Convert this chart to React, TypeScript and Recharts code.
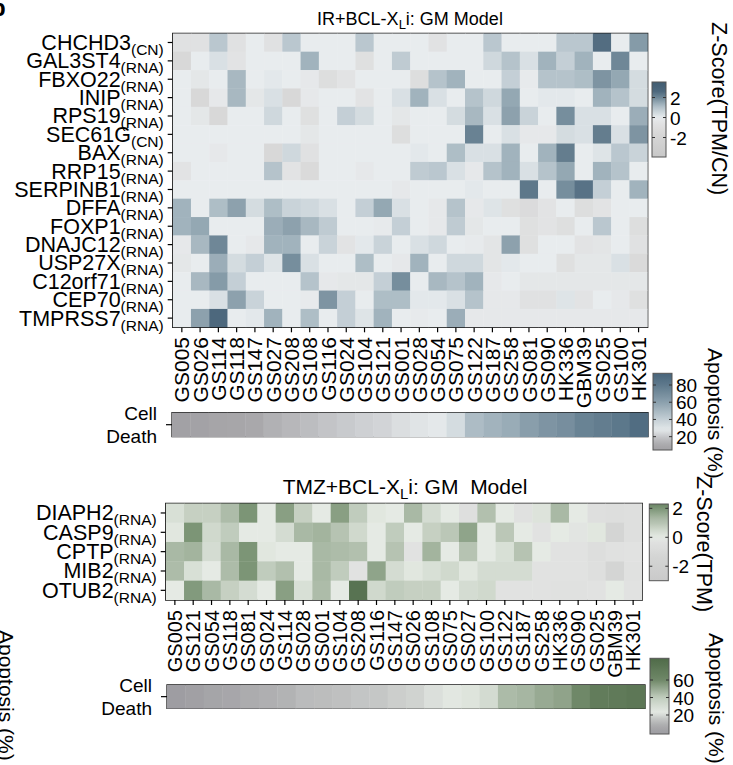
import React from 'react'
import { ScatterChart, Scatter, XAxis, YAxis, ReferenceArea } from 'recharts'

const FONT = "'Liberation Sans', Arial, Helvetica, sans-serif"

// ---- IR + BCL-XLi panel ----
const topGenes = ['CHCHD3', 'GAL3ST4', 'FBXO22', 'INIP', 'RPS19', 'SEC61G', 'BAX', 'RRP15', 'SERPINB1', 'DFFA', 'FOXP1', 'DNAJC12', 'USP27X', 'C12orf71', 'CEP70', 'TMPRSS7']
const topSources = ['CN', 'RNA', 'RNA', 'RNA', 'RNA', 'CN', 'RNA', 'RNA', 'RNA', 'RNA', 'RNA', 'RNA', 'RNA', 'RNA', 'RNA', 'RNA']
const topSamples = ['GS005', 'GS026', 'GS114', 'GS118', 'GS147', 'GS027', 'GS208', 'GS108', 'GS116', 'GS024', 'GS104', 'GS121', 'GS001', 'GS028', 'GS054', 'GS075', 'GS122', 'GS187', 'GS258', 'GS081', 'GS090', 'HK336', 'GBM39', 'GS025', 'GS100', 'HK301']
const topZ = [
  [-0.7, -0.7, 0.9, -0.7, 0, -0.7, 0.9, 0, 0, 0, 0.9, 0, 0, 0, -0.6, 0, 0, 0.9, 0, 0, 0, 0.9, 0.9, 2.5, 0, 1.7],
  [-1.5, 0, 0.3, -0.5, 0, 0, 0, 1.3, 0, 0, -0.8, 0, 0.8, 0, 0, 0, 0, 0.5, 1, 0.3, 1.3, 0.7, 1.3, 0, 2, 0],
  [0, -0.3, 0, 1.2, 0, 0.1, 0, -0.2, -1, -0.5, 0, 0, 0, -1, 1, 1.3, 0, 0, 0.7, -0.1, 1, 1, 1.1, 1.8, 1.5, 0.4],
  [0, -1.5, -0.2, 1.2, -0.3, 0.3, -1.5, -0.2, 0, 0, -0.5, 0, 0.3, 1.3, 0.3, 0, 1, 0.5, 1.5, 0, 0.1, 0.1, 0, 1.3, 1, 0.4],
  [0, -0.3, -1.5, 0, 0, 0.5, 0, -0.8, 0, 0.7, 0.4, 0, -0.3, 0, 0, 0.4, 1.2, 0.3, 1.6, 0.6, 0, 1.9, 0.3, 0.3, 0, 1.4],
  [0, 0, 0, 0, 0, 0, 0, -0.3, 0, 0, 0, 0, -1, 0, 0, 0, 2.1, 0, 0.3, -0.2, -0.2, 0.4, 0.3, 2.2, 0.3, 1.8],
  [0, 0, -0.2, 0, 0, -1.5, 0.5, -0.7, 0, 0, 0, 0, 0, 0.1, 0, 1.1, 0.3, 0.3, 1.3, 0, 1.3, 2.2, 0, 0.2, 0.9, 0.6],
  [-0.5, 0, 0, 0, 0, 1, -0.5, -1.3, 0, 0, -0.2, 0, 0, 0.8, 0.9, 0.3, -0.2, 1, 1.3, 0.3, 1, 1.5, 0, 1.3, 1, 0],
  [0, 0, 0, 0, 0, 0, 0, 0, 0, 0, 0, 0, -0.2, 0, 0, 0, 0.1, 0, 0, 2.3, 0, 1.9, 2.4, 0.7, 0, 1.3],
  [1.3, 0, 1.1, 1.6, 0.4, 1.1, 0.6, 0.5, 0.3, 0, 0.7, 1.5, 0.3, 0, -0.2, 1, -0.2, 0.2, -0.8, -1.2, -0.5, 0, -1, -0.5, 0, 0],
  [1.3, 1.5, 0, 0, 0, 1.4, 1.6, 1.2, 0.8, 0, 0, -0.1, 0.7, 0, -0.2, 0.8, -0.3, 0, 0, -0.8, -0.5, -0.9, 0, 0.9, 0, -1],
  [-0.2, 1.2, 2, 0, -0.2, 1.3, 1.3, 0, 0.6, -0.5, 0.1, 0.6, 0, 0.3, 0.5, 0, -0.1, -0.4, 1.6, -0.8, 0, 0, -0.5, -0.4, 0, -0.7],
  [-0.3, 0, 1.4, 0.4, 0.7, 0.2, 1.9, 0.3, 0, 0, 1.1, 0, -0.2, 1.3, 0, 0.5, 0.5, -0.4, 0.1, 0, 0, -0.8, -0.3, -0.3, 0.3, -1.3],
  [0, 1.2, 1.7, 0.7, 0, 0, 0, 1, -0.2, -0.3, -0.3, 0.7, 1.9, 0, 1.2, 1, 1.3, -0.2, 0, -0.3, -0.3, -0.3, -0.3, -0.3, -0.3, -0.3],
  [0, 0, 0.3, 1.6, 0.6, 0, 0, -0.1, 1.8, 0.7, 0, 1.1, 1.1, 0.1, 0.1, 0.3, 1, -0.2, -0.2, -0.7, -0.7, 0.2, -0.5, 0, -0.2, -0.8],
  [0, 1.6, 2.6, 0, 0.1, 1.3, 0, 1.1, 0, 0.7, 0.2, 1.3, 0, -0.1, 0, 1.4, -0.2, -0.2, -0.2, -0.2, -0.2, -0.2, -0.2, -0.2, -0.2, -0.2],
]
const topDeath = [4, 4.5, 7, 8, 10, 13, 15, 17, 19, 20.5, 22, 23, 25.5, 27, 28, 34, 48, 52, 55, 61, 66, 69, 75, 78, 81, 88]

// ---- TMZ + BCL-XLi panel ----
const botGenes = ['DIAPH2', 'CASP9', 'CPTP', 'MIB2', 'OTUB2']
const botSamples = ['GS005', 'GS121', 'GS054', 'GS118', 'GS081', 'GS024', 'GS114', 'GS028', 'GS001', 'GS104', 'GS208', 'GS116', 'GS147', 'GS026', 'GS108', 'GS075', 'GS027', 'GS100', 'GS122', 'GS187', 'GS258', 'HK336', 'GS090', 'GS025', 'GBM39', 'HK301']
const botZ = [
  [0.3, 0.7, 0.7, 1.2, 2, 0, 1.8, 0.7, 0, 1.8, 0.8, 0.1, 0, 1.3, 0.4, 0, -0.5, 1.1, 0, -0.4, 0.2, 1.3, 0, -0.5, -0.6, -0.5],
  [0.1, 2, 0.5, 0.8, 0, 0, 0.4, 1.3, 1.4, 1, 0.5, 0, 0.8, 0, 0.7, 0.9, 1.7, 0, 0.9, 0, -0.3, 0, -0.2, 0.1, -1.3, -0.5],
  [1.3, 1.4, 0.4, 1.3, 2, 0.1, 0, 0, 1.3, 1.2, 1.1, 0, 1, -0.3, 1.4, 0, 1, 0, 0.3, 1, 0, -0.3, -0.3, -0.6, -0.4, -0.3],
  [1.2, 0.3, 0, 1.2, 2, 0.8, 1.1, 0, 1.3, 0.8, -0.3, 1.7, 0.4, 0.1, 0.3, 0.5, 0.1, 0.4, 0.4, 0.4, -0.3, -0.3, -0.3, -0.5, -1.3, -0.4],
  [0, 1.9, 1.3, 0.7, 0.4, 0, 1.8, 0.3, 1.2, 0, 2.6, 0.5, 0.8, 0.7, 0.7, 0, 0.4, 0.5, -0.3, -0.3, -0.3, -0.4, -0.4, -0.3, 0, -0.3],
]
const botDeath = [0, 1.5, 4, 5, 8, 9, 10, 12.5, 13, 14, 15.5, 16, 17.5, 18.5, 21, 22.5, 26, 31, 45, 46.5, 50, 52, 60, 70, 72, 74]

// colour scales
type Stop = [number, string]
const blueZ: Stop[] = [[-4, '#c8c8c8'], [-1.5, '#d8d8d8'], [-0.5, '#e2e3e4'], [0, '#e8ecee'], [1, '#b5c3cb'], [1.5, '#94a8b3'], [2, '#6f8797'], [2.6, '#4d687d'], [3.6, '#405c70']]
const greenZ: Stop[] = [[-3, '#cacaca'], [-1.3, '#d4d5d4'], [-0.3, '#e1e2e1'], [0, '#e5eae4'], [0.5, '#d0d9cd'], [1, '#b6c3b2'], [1.3, '#a9b9a5'], [2, '#7c9576'], [2.6, '#587352']]
const blueApop: Stop[] = [[4, '#a2a1a5'], [10, '#a9a8ab'], [18, '#bfc0c3'], [28, '#e4e8ea'], [40, '#c4cfd5'], [60, '#8ba0ad'], [80, '#5e798c'], [94, '#47647a']]
const greenApop: Stop[] = [[0, '#9e9da2'], [8, '#acacae'], [16, '#c5c7c6'], [23, '#e4e9e3'], [40, '#c0ccbd'], [50, '#98aa93'], [60, '#6f8868'], [85, '#4f6a48']]

function hex(c: string) {
  return [1, 3, 5].map((i) => parseInt(c.slice(i, i + 2), 16))
}
function colorAt(stops: Stop[], v: number) {
  if (v <= stops[0][0]) return stops[0][1]
  for (let i = 1; i < stops.length; i++) {
    if (v <= stops[i][0]) {
      const [a, ca] = stops[i - 1]
      const [b, cb] = stops[i]
      const t = (v - a) / (b - a)
      const A = hex(ca)
      const B = hex(cb)
      return `rgb(${A.map((x, k) => Math.round(x + (B[k] - x) * t)).join(',')})`
    }
  }
  return stops[stops.length - 1][1]
}

const idx = (n: number) => Array.from({ length: n }, (_, i) => i)
const toCells = (m: number[][]) => m.flatMap((row, y) => row.map((v, x) => ({ x, y, v })))
const toBar = (a: number[]) => a.map((v, x) => ({ x, y: 0, v }))

const cellShape = (w: number, h: number, stops: Stop[]) => (p: any) => (
  <rect x={p.cx - w / 2} y={p.cy - h / 2} width={w + 0.4} height={h + 0.4} fill={colorAt(stops, p.payload.v)} />
)

const geneTick = (genes: string[], src: string[]) => (p: any) => (
  <text x={p.x} y={p.y + 7.5} textAnchor="end" fontFamily={FONT} fill="#000">
    <tspan fontSize={21.5}>{genes[p.payload.value]}</tspan>
    <tspan fontSize={15.5} dy={5}>({src[p.payload.value]})</tspan>
  </text>
)

const sampleTick = (labels: string[], size: number, y0: number) => (p: any) => (
  <text
    x={p.x + size * 0.36}
    y={y0}
    transform={`rotate(-90, ${p.x + size * 0.36}, ${y0})`}
    textAnchor="end"
    fontFamily={FONT}
    fontSize={size}
    fill="#000"
  >
    {labels[p.payload.value]}
  </text>
)

const deathTick = (p: any) => (
  <text textAnchor="end" fontFamily={FONT} fontSize={19} fill="#000">
    <tspan x={p.x} y={p.y - 5}>Cell</tspan>
    <tspan x={p.x} y={p.y + 18}>Death</tspan>
  </text>
)

function ColorBar({ id, stops, x, y, w, h, vTop, vBot, ticks }: { id: string; stops: Stop[]; x: number; y: number; w: number; h: number; vTop: number; vBot: number; ticks: number[] }) {
  const n = 24
  const ypos = (v: number) => y + ((vTop - v) / (vTop - vBot)) * h
  return (
    <g>
      <defs>
        <linearGradient id={id} x1="0" y1="0" x2="0" y2="1">
          {idx(n + 1).map((i) => (
            <stop key={i} offset={i / n} stopColor={colorAt(stops, vTop - ((vTop - vBot) * i) / n)} />
          ))}
        </linearGradient>
      </defs>
      <rect x={x} y={y} width={w} height={h} fill={`url(#${id})`} stroke="#555" strokeWidth={1} />
      {ticks.map((t) => (
        <g key={t}>
          <line x1={x} x2={x + 3} y1={ypos(t)} y2={ypos(t)} stroke="#333" />
          <line x1={x + w - 3} x2={x + w} y1={ypos(t)} y2={ypos(t)} stroke="#333" />
          <text x={x + w + 4} y={ypos(t) + 7} fontFamily={FONT} fontSize={19} fill="#000">
            {t}
          </text>
        </g>
      ))}
    </g>
  )
}

const vtext = (x: number, y: number, s: string, size = 21) => (
  <text x={x} y={y} transform={`rotate(90, ${x}, ${y})`} fontFamily={FONT} fontSize={size} fill="#000">
    {s}
  </text>
)

export default function App() {
  const axisTick = { stroke: '#000', strokeWidth: 1.2 }
  return (
    <div style={{ position: 'absolute', left: 0, top: 0, width: 733, height: 765, background: '#fff', overflow: 'hidden' }}>
      {/* top heatmap */}
      <div style={{ position: 'absolute', left: 0, top: 0 }}>
        <ScatterChart width={733} height={410} margin={{ top: 33.3, right: 85.3, bottom: 0, left: 0 }}>
          <XAxis type="number" dataKey="x" domain={[-0.5, 25.5]} ticks={idx(26)} interval={0} height={82.7} axisLine={false} tickLine={axisTick} tickSize={5} tick={sampleTick(topSamples, 21, 337)} allowDataOverflow />
          <YAxis type="number" dataKey="y" domain={[-0.5, 15.5]} reversed ticks={idx(16)} interval={0} width={172.7} axisLine={false} tickLine={axisTick} tickSize={5} tickMargin={4} tick={geneTick(topGenes, topSources)} allowDataOverflow />
          <Scatter data={toCells(topZ)} shape={cellShape(475 / 26, 294 / 16, blueZ)} isAnimationActive={false} />
          <ReferenceArea x1={-0.5} x2={25.5} y1={-0.5} y2={15.5} fill="none" stroke="#1a1a1a" strokeWidth={1.3} />
        </ScatterChart>
      </div>
      {/* top cell death */}
      <div style={{ position: 'absolute', left: 0, top: 400 }}>
        <ScatterChart width={733} height={45} margin={{ top: 12.7, right: 85, bottom: 8.3, left: 0 }}>
          <XAxis type="number" dataKey="x" domain={[-0.5, 25.5]} hide />
          <YAxis type="number" dataKey="y" domain={[-0.5, 0.5]} ticks={[0]} width={172} axisLine={false} tickLine={axisTick} tickSize={6} tickMargin={9} tick={deathTick} />
          <Scatter data={toBar(topDeath)} shape={cellShape(476 / 26, 24, blueApop)} isAnimationActive={false} />
          <ReferenceArea x1={-0.5} x2={25.5} y1={-0.5} y2={0.5} fill="none" stroke="#1a1a1a" strokeWidth={1.3} />
        </ScatterChart>
      </div>
      {/* bottom heatmap */}
      <div style={{ position: 'absolute', left: 0, top: 480 }}>
        <ScatterChart width={733} height={200} margin={{ top: 23.3, right: 90.7, bottom: 0, left: 0 }}>
          <XAxis type="number" dataKey="x" domain={[-0.5, 25.5]} ticks={idx(26)} interval={0} height={80} axisLine={false} tickLine={axisTick} tickSize={5} tick={sampleTick(botSamples, 20, 130)} allowDataOverflow />
          <YAxis type="number" dataKey="y" domain={[-0.5, 4.5]} reversed ticks={idx(5)} interval={0} width={165.7} axisLine={false} tickLine={axisTick} tickSize={5} tickMargin={4} tick={geneTick(botGenes, botGenes.map(() => 'RNA'))} allowDataOverflow />
          <Scatter data={toCells(botZ)} shape={cellShape(476.6 / 26, 96.7 / 5, greenZ)} isAnimationActive={false} />
          <ReferenceArea x1={-0.5} x2={25.5} y1={-0.5} y2={4.5} fill="none" stroke="#1a1a1a" strokeWidth={1.3} />
        </ScatterChart>
      </div>
      {/* bottom cell death */}
      <div style={{ position: 'absolute', left: 0, top: 675 }}>
        <ScatterChart width={733} height={45} margin={{ top: 10, right: 88, bottom: 11.7, left: 0 }}>
          <XAxis type="number" dataKey="x" domain={[-0.5, 25.5]} hide />
          <YAxis type="number" dataKey="y" domain={[-0.5, 0.5]} ticks={[0]} width={167} axisLine={false} tickLine={axisTick} tickSize={6} tickMargin={9} tick={deathTick} />
          <Scatter data={toBar(botDeath)} shape={cellShape(478 / 26, 23.3, greenApop)} isAnimationActive={false} />
          <ReferenceArea x1={-0.5} x2={25.5} y1={-0.5} y2={0.5} fill="none" stroke="#1a1a1a" strokeWidth={1.3} />
        </ScatterChart>
      </div>
      {/* titles and legends */}
      <svg width={733} height={765} style={{ position: 'absolute', left: 0, top: 0, pointerEvents: 'none' }}>
        <text x={-9} y={16} fontFamily={FONT} fontSize={24} fontWeight="bold" fill="#000">b</text>
        <text x={410} y={25} textAnchor="middle" fontFamily={FONT} fontSize={18} fill="#000">
          IR+BCL-X<tspan fontSize={13} dy={4}>L</tspan><tspan dy={-4}>i: GM Model</tspan>
        </text>
        <text x={405} y={494} textAnchor="middle" fontFamily={FONT} fontSize={21} fill="#000">
          TMZ+BCL-X<tspan fontSize={15} dy={5}>L</tspan><tspan dy={-5}>i: GM{'\u00a0\u00a0'}Model</tspan>
        </text>
        <ColorBar id="gz1" stops={blueZ} x={652} y={82} w={14} h={75} vTop={3.55} vBot={-3.95} ticks={[2, 0, -2]} />
        <ColorBar id="ga1" stops={blueApop} x={653} y={373.3} w={19} h={76.7} vTop={93.6} vBot={4.5} ticks={[80, 60, 40, 20]} />
        <ColorBar id="gz2" stops={greenZ} x={649.3} y={504} w={19} h={76.7} vTop={2.3} vBot={-3} ticks={[2, 0, -2]} />
        <ColorBar id="ga2" stops={greenApop} x={650} y={658.3} w={19} h={75.7} vTop={84.8} vBot={-1.7} ticks={[60, 40, 20]} />
        {vtext(712, 22, 'Z-Score(TPM/CN)', 21.5)}
        {vtext(708, 348, 'Apoptosis (%)')}
        {vtext(697, 476, 'Z-Score(TPM)', 21.5)}
        {vtext(709, 633, 'Apoptosis (%)')}
        {vtext(-1, 630, 'Apoptosis (%)')}
      </svg>
    </div>
  )
}
